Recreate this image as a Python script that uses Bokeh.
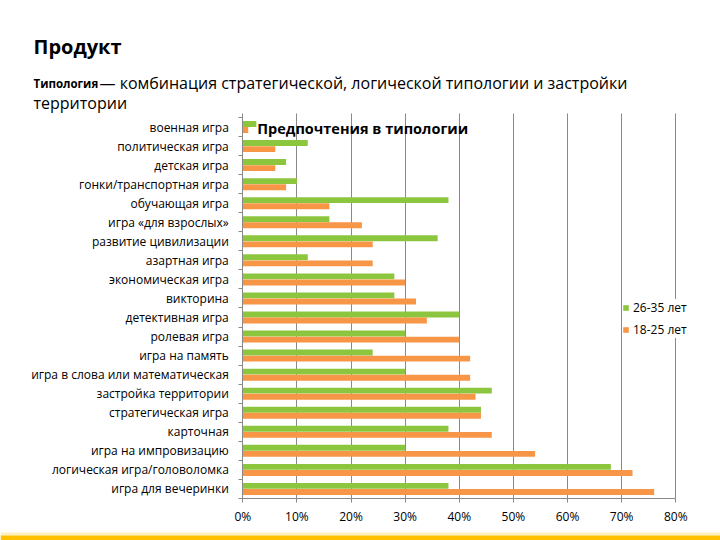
from bokeh.plotting import figure
from bokeh.models import (ColumnDataSource, Range1d, FixedTicker, Label,
                          BoxAnnotation, Grid)
from bokeh.transform import dodge
from bokeh.embed import file_html
from bokeh.resources import INLINE

# ---- data -------------------------------------------------------------
categories = [
    "военная игра",
    "политическая игра",
    "детская игра",
    "гонки/транспортная игра",
    "обучающая игра",
    "игра «для взрослых»",
    "развитие цивилизации",
    "азартная игра",
    "экономическая игра",
    "викторина",
    "детективная игра",
    "ролевая игра",
    "игра на память",
    "игра в слова или математическая",
    "застройка территории",
    "стратегическая игра",
    "карточная",
    "игра на импровизацию",
    "логическая игра/головоломка",
    "игра для вечеринки",
]
age_26_35 = [2.5, 12, 8, 10, 38, 16, 36, 12, 28, 28, 40, 30, 24, 30, 46, 44, 38, 30, 68, 38]
age_18_25 = [1, 6, 6, 8, 16, 22, 24, 24, 30, 32, 34, 40, 42, 42, 43, 44, 46, 54, 72, 76]
series_names = ["26-35 лет", "18-25 лет"]
x_ticks = [0, 10, 20, 30, 40, 50, 60, 70, 80]
x_tick_labels = ["0%", "10%", "20%", "30%", "40%", "50%", "60%", "70%", "80%"]

heading = "Продукт"
sub_bold = "Типология"
sub_rest = "— комбинация стратегической, логической типологии и застройки"
sub_line2 = "территории"
chart_title = "Предпочтения в типологии"

GREEN = "#8CC63F"
ORANGE = "#F79646"
GRID = "#898989"
FONT = "Open Sans"
W, H = 720, 540

# ---- layout constants (pixels of the slide) ------------------------------
X0_PX, PX_PER_PCT = 242.3, 433 / 80          # where 0 % sits, pixels per 1 %
ROW0_PX, ROW_PX = 126.5, 19.05                 # centre of the first row, row pitch
n = len(categories)
x_start = -X0_PX / PX_PER_PCT
x_end = (W - X0_PX) / PX_PER_PCT
y_top = -ROW0_PX / ROW_PX
y_bottom = (H - ROW0_PX) / ROW_PX

idx = list(range(n))
source = ColumnDataSource(dict(y=idx, cat=categories, g=age_26_35, o=age_18_25))

p = figure(width=W, height=H, output_backend="svg", toolbar_location=None,
           x_range=Range1d(x_start, x_end), y_range=Range1d(y_bottom, y_top),
           min_border=0, outline_line_color=None)

bar_h = 0.31
p.hbar(y=dodge("y", -0.16, range=p.y_range), right="g", left=0, height=bar_h,
       source=source, fill_color=GREEN, line_color=None,
       legend_label=series_names[0])
p.hbar(y=dodge("y", 0.16, range=p.y_range), right="o", left=0, height=bar_h,
       source=source, fill_color=ORANGE, line_color=None,
       legend_label=series_names[1])

# x axis (fixed at the bottom of the plot area)
xa = p.xaxis[0]
xa.fixed_location = n - 0.5
xa.ticker = FixedTicker(ticks=x_ticks)
xa.bounds = (x_ticks[0], x_ticks[-1])
xa.major_label_overrides = {t: l for t, l in zip(x_ticks, x_tick_labels)}
xa.axis_line_color = GRID
xa.major_tick_line_color = GRID
xa.major_tick_out = 4
xa.major_tick_in = 0
xa.minor_tick_line_color = None
xa.major_label_standoff = 6
xa.major_label_text_font = FONT
xa.major_label_text_font_size = "12px"
xa.major_label_text_color = "#000000"

# y axis (fixed at 0 %)
ya = p.yaxis[0]
ya.fixed_location = 0
ya.bounds = (-0.5, n - 0.5)
ya.ticker = FixedTicker(ticks=idx, minor_ticks=[i - 0.5 for i in range(n + 1)])
ya.major_label_overrides = {i: c for i, c in zip(idx, categories)}
ya.axis_line_color = GRID
ya.major_tick_line_color = None
ya.major_tick_out = 0
ya.major_tick_in = 0
ya.minor_tick_line_color = GRID
ya.minor_tick_out = 4
ya.minor_tick_in = 0
ya.major_label_standoff = 10
ya.major_label_text_font = FONT
ya.major_label_text_font_size = "12px"
ya.major_label_text_color = "#000000"

# vertical gridlines limited to the plot area
p.ygrid.grid_line_color = None
grid_top = (113 - ROW0_PX) / ROW_PX
if "cross_bounds" in Grid.properties():
    p.xgrid.ticker = FixedTicker(ticks=x_ticks)
    p.xgrid.cross_bounds = (grid_top, n - 0.5)
    p.xgrid.grid_line_color = GRID
else:
    p.xgrid.grid_line_color = None
    p.segment(x0=x_ticks[1:], x1=x_ticks[1:], y0=grid_top, y1=n - 0.5,
              line_color=GRID, line_width=1, level="underlay")

# legend
lg = p.legend[0]
lg.location = (622, 202.5)
lg.glyph_width = 7
lg.glyph_height = 7
lg.spacing = 5
lg.padding = 2
lg.margin = 0
lg.label_standoff = 4
lg.border_line_color = None
lg.background_fill_color = "white"
lg.background_fill_alpha = 1
lg.label_text_font = FONT
lg.label_text_font_size = "12px"
lg.label_text_color = "#000000"


# texts, in pixels from the bottom-left corner
def add_label(text, x, y, size, bold=False):
    p.add_layout(Label(text=text, x=x, y=H - y, x_units="screen", y_units="screen",
                       text_font=FONT, text_font_size=size,
                       text_font_style="bold" if bold else "normal",
                       text_color="#000000", text_baseline="alphabetic",
                       text_align="left"))


add_label(heading, 33, 45.5, "20px", bold=True)
add_label(sub_bold, 33, 82.5, "11.5px", bold=True)
add_label(sub_rest, 99, 82.5, "16px")
add_label(sub_line2, 33, 102.5, "16px")
add_label(chart_title, 256.7, 127.5, "14.5px", bold=True)

# decorative band at the bottom of the slide
p.add_layout(BoxAnnotation(left=0, right=W, bottom=5, top=8,
                           left_units="screen", right_units="screen",
                           bottom_units="screen", top_units="screen",
                           fill_color="#FFF2C0", fill_alpha=1, line_color=None))
p.add_layout(BoxAnnotation(left=0, right=W, bottom=0, top=5,
                           left_units="screen", right_units="screen",
                           bottom_units="screen", top_units="screen",
                           fill_color="#FFC000", fill_alpha=1, line_color=None))

open("out.html", "w").write(file_html(p, INLINE))
